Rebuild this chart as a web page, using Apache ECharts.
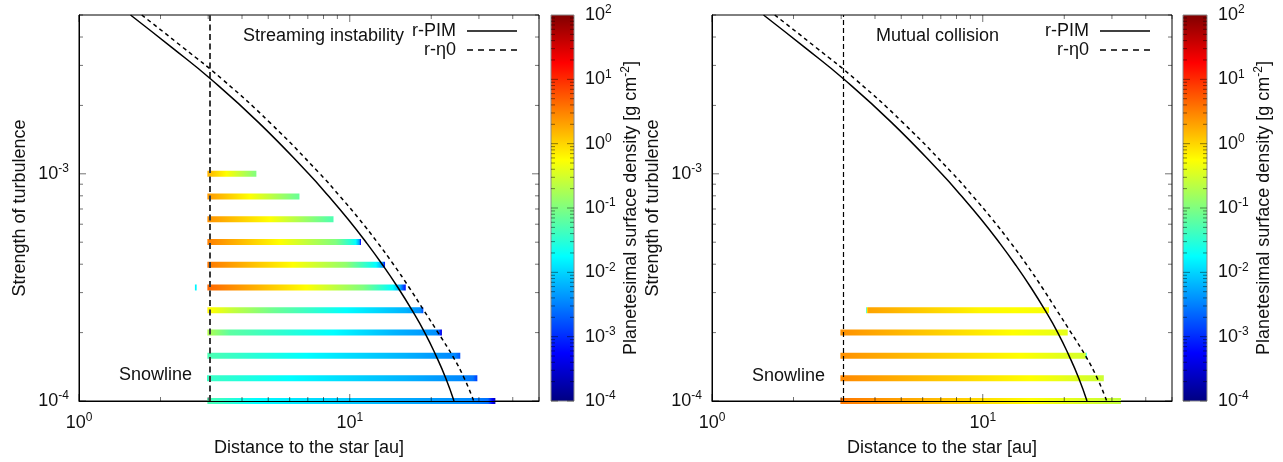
<!DOCTYPE html>
<html>
<head>
<meta charset="utf-8">
<script src="https://cdn.jsdelivr.net/npm/echarts@6/dist/echarts.min.js"></script>
<style>
  html, body { margin: 0; padding: 0; background: #fff; }
  #chart { width: 1283px; height: 462px; }
</style>
</head>
<body>
<div id="chart"></div>
<script>
// ---- data -------------------------------------------------------------

// Turbulence strength of each disk model (one horizontal ring profile per value)
const siAlpha = [1.0e-4, 1.26e-4, 1.58e-4, 2.0e-4, 2.51e-4, 3.16e-4, 3.98e-4, 5.01e-4, 6.31e-4, 7.94e-4, 1.0e-3];

// Streaming instability: radii [au] of the profile stops along each ring ...
const siR = [
  [2.98, 4.5, 14.0, 28.5, 32.4, 34.5],
  [2.97, 6.0, 16.1, 26.1, 28.5, 29.6],
  [2.98, 6.9, 16.1, 24.5, 25.6],
  [2.98, 3.6, 8.7, 14.8, 20.8, 21.3, 21.9],
  [2.98, 3.7, 5.2, 9.7, 16.1, 18.2, 18.7],
  [2.98, 6.9, 11.2, 14.4, 15.4, 16.1],
  [2.98, 6.16, 9.7, 12.5, 13.2, 13.5],
  [2.98, 5.5, 8.9, 10.5, 10.85, 11.0],
  [2.98, 5.05, 8.71],
  [2.98, 4.27, 6.52],
  [2.98, 3.5, 4.52]
];
// ... and log10 of the planetesimal surface density [g cm^-2] at those stops
const siLogSigma = [
  [-1.3, -1.75, -2.2, -2.45, -2.6, -3.7],
  [-1.4, -1.75, -2.2, -2.45, -2.55, -2.9],
  [-1.3, -1.75, -2.2, -2.45, -2.75],
  [-0.7, -1.2, -1.75, -2.2, -2.4, -2.6, -3.5],
  [-0.2, -0.6, -1.1, -1.75, -2.2, -2.4, -2.8],
  [0.65, -0.25, -1.0, -1.75, -2.3, -3.2],
  [0.55, -0.25, -0.9, -1.75, -2.3, -3.2],
  [0.5, -0.25, -1.0, -1.7, -2.3, -3.5],
  [0.4, -0.25, -1.3],
  [0.35, -0.25, -1.15],
  [0.2, -0.25, -1.0]
];
// isolated narrow ring just inside the snowline
const siInnerAlpha = [3.16e-4];
const siInnerR = [[2.68, 2.72]];
const siInnerLogSigma = [[-1.8, -1.8]];

// Mutual collision
const mcAlpha = [1.0e-4, 1.26e-4, 1.58e-4, 2.0e-4, 2.51e-4];
const mcR = [
  [2.98, 15.0, 32.4],
  [2.98, 14.9, 28.0],
  [2.98, 13.7, 23.9, 24.2],
  [2.98, 12.9, 20.6],
  [3.71, 3.76, 9.8, 17.57]
];
const mcLogSigma = [
  [0.55, -0.25, -0.6],
  [0.45, -0.25, -0.55],
  [0.4, -0.25, -0.5, -1.75],
  [0.4, -0.25, -0.4],
  [-1.75, 0.3, -0.2, -0.3]
];

// Boundary curves in the (r, alpha) plane
const curveAlpha = [5.0e-3, 3.6e-3, 2.6e-3, 1.68e-3, 1.0e-3, 7.94e-4, 6.31e-4, 5.01e-4, 3.98e-4, 3.16e-4, 2.51e-4, 2.0e-4, 1.58e-4, 1.26e-4, 1.0e-4];
const pimR  = [1.55, 2.2, 3.08, 4.61, 7.05, 8.38, 9.86, 11.47, 13.21, 15.06, 16.98, 18.92, 20.84, 22.63, 24.27];
const eta0R = [1.705, 2.42, 3.39, 5.07, 7.76, 9.22, 10.85, 12.62, 14.53, 16.57, 18.76, 21.19, 23.97, 26.48, 28.71];

// Snowline position [au]
const snowlineR = 3.05;

// Axis ranges and colour scale range (log10 of surface density)
const rRange = [1, 50];
const alphaRange = [1e-4, 5e-3];
const sigmaLogRange = [-4, 2];

// ---- helpers ----------------------------------------------------------

const FONT = 'Liberation Sans, Arial, Helvetica, sans-serif';
const TXT = '#111';
const SUP = { fontSize: 12, fontFamily: FONT, color: TXT, padding: [0, 0, 10, 0] };

const clamp01 = v => Math.max(0, Math.min(1, v));

// jet colormap
function jet(t) {
  t = clamp01(t);
  const c = v => Math.round(255 * clamp01(v));
  return 'rgb(' + c(1.5 - Math.abs(4 * t - 3)) + ',' + c(1.5 - Math.abs(4 * t - 2)) + ',' + c(1.5 - Math.abs(4 * t - 1)) + ')';
}
const sigmaColor = ls => jet((ls - sigmaLogRange[0]) / (sigmaLogRange[1] - sigmaLogRange[0]));

const powLabel = v => '10{s|' + Math.round(Math.log10(v)) + '}';

// Horizontal ring profiles coloured by surface density
function ringSeries(gi, alphas, rs, ls) {
  return {
    type: 'custom', xAxisIndex: gi, yAxisIndex: gi, z: 3, clip: false, silent: true,
    data: alphas.map((a, i) => [rs[i][0], a, rs[i][rs[i].length - 1], i]),
    encode: { x: [0, 2], y: 1 },
    renderItem(params, api) {
      const i = api.value(3), a = api.value(1);
      const R = rs[i], L = ls[i];
      const p0 = api.coord([R[0], a]);
      const p1 = api.coord([R[R.length - 1], a]);
      const w = Math.max(p1[0] - p0[0], 1.5);
      const stops = [];
      const n = 10;
      for (let j = 0; j < R.length - 1; j++) {
        const l0 = Math.log10(R[j]), l1 = Math.log10(R[j + 1]);
        for (let k = 0; k <= n; k++) {
          const px = api.coord([Math.pow(10, l0 + (l1 - l0) * k / n), a])[0];
          stops.push({ offset: clamp01((px - p0[0]) / w), color: sigmaColor(L[j] + (L[j + 1] - L[j]) * k / n) });
        }
      }
      return {
        type: 'rect',
        shape: { x: p0[0], y: p0[1] - 3, width: w, height: 6 },
        style: { fill: new echarts.graphic.LinearGradient(0, 0, 1, 0, stops) }
      };
    }
  };
}

// Log-scale tick marks mirrored on all four sides of a panel
function logTicks(lo, hi) {
  const out = [];
  for (let e = Math.floor(Math.log10(lo)); e <= Math.ceil(Math.log10(hi)); e++) {
    for (let k = 1; k <= 9; k++) {
      const v = k * Math.pow(10, e);
      if (v >= lo * 0.999 && v <= hi * 1.001) out.push([v, k === 1 ? 7 : 4]);
    }
  }
  return out;
}
function tickSeries(gi) {
  const data = logTicks(rRange[0], rRange[1]).map(([v, len]) => [v, alphaRange[0], 0, len])
    .concat(logTicks(alphaRange[0], alphaRange[1]).map(([v, len]) => [rRange[0], v, 1, len]));
  return {
    type: 'custom', xAxisIndex: gi, yAxisIndex: gi, z: 6, silent: true, clip: false,
    data, encode: { x: 0, y: 1 },
    renderItem(params, api) {
      const kind = api.value(2), len = api.value(3);
      const st = { stroke: 'rgba(0,0,0,0.55)', lineWidth: 1 };
      if (kind === 0) {
        const v = api.value(0);
        const b = api.coord([v, alphaRange[0]]), t = api.coord([v, alphaRange[1]]);
        return { type: 'group', children: [
          { type: 'line', shape: { x1: b[0], y1: b[1], x2: b[0], y2: b[1] - len }, style: st },
          { type: 'line', shape: { x1: t[0], y1: t[1], x2: t[0], y2: t[1] + len }, style: st }
        ] };
      }
      const v = api.value(1);
      const l = api.coord([rRange[0], v]), r = api.coord([rRange[1], v]);
      return { type: 'group', children: [
        { type: 'line', shape: { x1: l[0], y1: l[1], x2: l[0] + len, y2: l[1] }, style: st },
        { type: 'line', shape: { x1: r[0], y1: r[1], x2: r[0] - len, y2: r[1] }, style: st }
      ] };
    }
  };
}

// Colour bar: gradient rectangle plus log minor ticks
function colorbarSeries(gi) {
  return {
    type: 'custom', xAxisIndex: gi, yAxisIndex: gi, silent: true, clip: false,
    data: [[0, sigmaLogRange[0], 1, sigmaLogRange[1]]],
    encode: { x: [0, 2], y: [1, 3] },
    renderItem(params, api) {
      const p0 = api.coord([0, sigmaLogRange[0]]);
      const p1 = api.coord([1, sigmaLogRange[1]]);
      const stops = [];
      for (let k = 0; k <= 48; k++) stops.push({ offset: k / 48, color: jet(k / 48) });
      const children = [{
        type: 'rect',
        shape: { x: p0[0], y: p1[1], width: p1[0] - p0[0], height: p0[1] - p1[1] },
        style: { fill: new echarts.graphic.LinearGradient(0, 1, 0, 0, stops), stroke: '#8a8a8a', lineWidth: 1 }
      }];
      for (let e = sigmaLogRange[0]; e < sigmaLogRange[1]; e++) {
        for (let k = 1; k <= 9; k++) {
          const y = api.coord([0, e + Math.log10(k)])[1];
          const len = k === 1 ? 7 : 4;
          const st = { stroke: 'rgba(0,0,0,0.45)', lineWidth: 1 };
          children.push({ type: 'line', shape: { x1: p0[0], y1: y, x2: p0[0] + len, y2: y }, style: st });
          children.push({ type: 'line', shape: { x1: p1[0], y1: y, x2: p1[0] - len, y2: y }, style: st });
        }
      }
      return { type: 'group', children };
    }
  };
}

function curveSeries(gi, name, rs, as, dashed, snow) {
  const s = {
    type: 'line', name, xAxisIndex: gi, yAxisIndex: gi, z: 5,
    data: rs.map((r, i) => [r, as[i]]),
    smooth: 0.5, symbol: 'none', silent: true,
    lineStyle: { color: '#000', width: 1.5, type: dashed ? [4, 3.5] : 'solid' },
    itemStyle: { color: '#000' }
  };
  if (snow) {
    s.markLine = {
      silent: true, symbol: 'none', label: { show: false },
      lineStyle: snow, data: [{ xAxis: snowlineR }]
    };
  }
  return s;
}

const mainGrids = [
  { left: 79, top: 15, width: 460, height: 386 },
  { left: 712, top: 15, width: 460, height: 386 }
];
const cbGrids = [
  { left: 551, top: 15, width: 23, height: 386 },
  { left: 1183, top: 15, width: 24, height: 386 }
];

const grid = mainGrids.concat(cbGrids).map((g, i) => Object.assign({
  show: i < 2, borderColor: '#000', borderWidth: 1, backgroundColor: 'transparent'
}, g));

function rAxis(gi) {
  return {
    type: 'log', logBase: 10, gridIndex: gi, min: rRange[0], max: rRange[1], z: 8,
    axisLine: { show: true, lineStyle: { color: '#000', width: 1 } },
    axisTick: { show: false }, splitLine: { show: false }, minorTick: { show: false },
    axisLabel: {
      formatter: powLabel, showMaxLabel: false, margin: 11,
      color: TXT, fontSize: 18, fontFamily: FONT, rich: { s: SUP }
    },
    name: 'Distance to the star [au]', nameLocation: 'middle', nameGap: 38,
    nameTextStyle: { color: TXT, fontSize: 18, fontFamily: FONT }
  };
}
function alphaAxis(gi) {
  return {
    type: 'log', logBase: 10, gridIndex: gi, min: alphaRange[0], max: alphaRange[1], z: 8,
    axisLine: { show: true, lineStyle: { color: '#000', width: 1 } },
    axisTick: { show: false }, splitLine: { show: false }, minorTick: { show: false },
    axisLabel: {
      formatter: powLabel, showMaxLabel: false, margin: 10,
      color: TXT, fontSize: 18, fontFamily: FONT, rich: { s: SUP }
    },
    name: 'Strength of turbulence', nameLocation: 'middle', nameGap: 50,
    nameTextStyle: { color: TXT, fontSize: 18, fontFamily: FONT }
  };
}
function cbXAxis(gi) {
  return { type: 'value', gridIndex: gi, min: 0, max: 1, show: false };
}
function cbYAxis(gi) {
  return {
    type: 'value', gridIndex: gi, position: 'right',
    min: sigmaLogRange[0], max: sigmaLogRange[1], interval: 1,
    axisLine: { show: false }, axisTick: { show: false }, splitLine: { show: false },
    axisLabel: {
      formatter: v => '10{s|' + v + '}', margin: 11,
      color: TXT, fontSize: 18, fontFamily: FONT, rich: { s: SUP }
    },
    name: 'Planetesimal surface density [g cm{s|-2}]', nameLocation: 'middle', nameRotate: 90, nameGap: 35,
    nameTextStyle: { color: TXT, fontSize: 18, fontFamily: FONT, rich: { s: SUP } }
  };
}

// Legend keys drawn as plain line samples (solid / dashed)
const solidKey = 'path://M0,0H50V1.5H0Z';
const dashedKey = 'path://M0,0h6v1.5h-6z M11,0h6v1.5h-6z M22,0h6v1.5h-6z M33,0h6v1.5h-6z M44,0h6v1.5h-6z';

const legendBase = {
  data: [{ name: 'r-PIM', icon: solidKey }, { name: 'r-η0', icon: dashedKey }],
  orient: 'vertical', align: 'right', padding: 0,
  top: 22, itemWidth: 50, itemHeight: 14, itemGap: 1, selectedMode: false,
  itemStyle: { color: '#000', borderWidth: 0 },
  textStyle: { color: TXT, fontSize: 18, fontFamily: FONT, lineHeight: 18, padding: [0, 6, 0, 0] }
};

const option = {
  animation: false,
  backgroundColor: '#fff',
  grid,
  xAxis: [rAxis(0), rAxis(1), cbXAxis(2), cbXAxis(3)],
  yAxis: [alphaAxis(0), alphaAxis(1), cbYAxis(2), cbYAxis(3)],
  legend: [
    Object.assign({}, legendBase, { right: 1283 - 517 }),
    Object.assign({}, legendBase, { right: 1283 - 1150 })
  ],
  graphic: [
    { type: 'text', x: 243, y: 36, style: { text: 'Streaming instability', fill: TXT, font: '18px ' + FONT, verticalAlign: 'middle' } },
    { type: 'text', x: 876, y: 36, style: { text: 'Mutual collision', fill: TXT, font: '18px ' + FONT, verticalAlign: 'middle' } },
    { type: 'text', x: 119, y: 375, style: { text: 'Snowline', fill: TXT, font: '18px ' + FONT, verticalAlign: 'middle' } },
    { type: 'text', x: 752, y: 376, style: { text: 'Snowline', fill: TXT, font: '18px ' + FONT, verticalAlign: 'middle' } }
  ],
  series: [
    ringSeries(0, siAlpha, siR, siLogSigma),
    ringSeries(0, siInnerAlpha, siInnerR, siInnerLogSigma),
    curveSeries(0, 'r-PIM', pimR, curveAlpha, false, { color: '#3a3a3a', width: 2, type: [6, 3.5] }),
    curveSeries(0, 'r-η0', eta0R, curveAlpha, true),
    tickSeries(0),
    ringSeries(1, mcAlpha, mcR, mcLogSigma),
    curveSeries(1, 'r-PIM', pimR, curveAlpha, false, { color: '#000', width: 1.2, type: [5, 3] }),
    curveSeries(1, 'r-η0', eta0R, curveAlpha, true),
    tickSeries(1),
    colorbarSeries(2),
    colorbarSeries(3)
  ]
};

const chart = echarts.init(document.getElementById('chart'), null, { renderer: 'canvas' });
chart.setOption(option);
</script>
</body>
</html>
